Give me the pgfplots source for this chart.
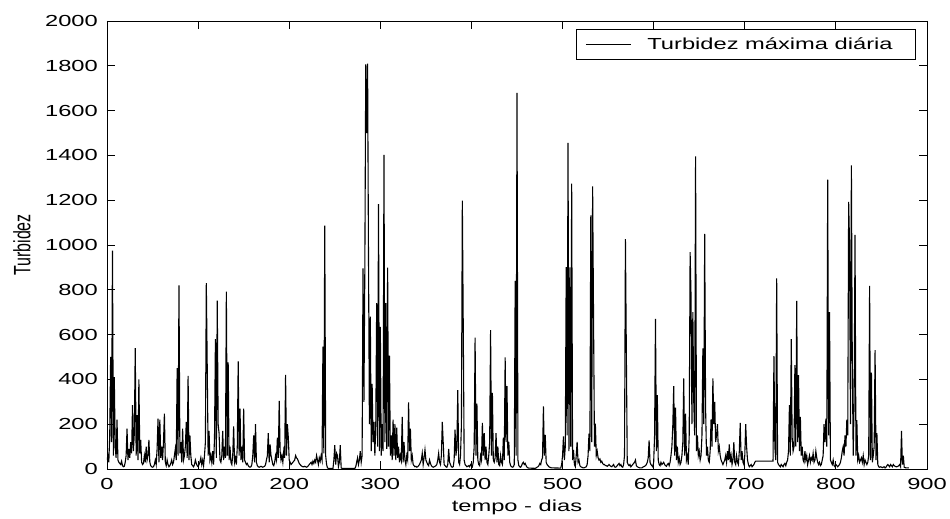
\documentclass[border=0pt]{standalone}
\usepackage{graphicx}
\usepackage{pgfplots}
\pgfplotsset{compat=1.18}
\usepackage{fontspec}
\setmainfont[FakeStretch=1.48]{Liberation Sans}
\newfontfamily\plainsans{Liberation Sans}
\begin{document}
\begin{tikzpicture}
\begin{axis}[
  at={(0,0)}, anchor=south west,
  scale only axis, width=820bp, height=448bp,
  xmin=0, xmax=900, ymin=0, ymax=2000,
  xtick={0,100,...,900}, ytick={0,200,...,2000},
  tick align=inside, xtick pos=both, ytick pos=both,
  major tick length=8bp,
  axis line style={line width=0.9bp},
  every tick/.style={black, line width=0.9bp},
  /pgf/number format/assume math mode=true,
  /pgf/number format/1000 sep={},
  ticklabel style={font=\fontsize{16bp}{18bp}\selectfont},
  yticklabel style={inner sep=0pt, xshift=-9bp},
  xticklabel style={inner sep=0pt, yshift=-9bp},
  xlabel={tempo - dias},
  xlabel style={font=\fontsize{16bp}{18bp}\selectfont, at={(axis description cs:0.5,0)}, anchor=center, yshift=-38bp},
  ylabel={\scalebox{1}[1.48]{\plainsans Turbidez}},
  ylabel style={font=\fontsize{16bp}{18bp}\selectfont, at={(axis description cs:0,0.5)}, anchor=center, yshift=85bp},
  legend style={at={(0.9866,0.982)}, anchor=north east, draw=black, line width=0.8bp, fill=white,
    inner xsep=9bp, inner ysep=6.5bp, font=\fontsize{16bp}{18bp}\selectfont, nodes={inner sep=2bp}},
  legend image code/.code={\draw[#1] (0bp,0bp) -- (45bp,0bp);},
]
\addplot[black, line width=1.1bp, mark=none] coordinates {
(0,40) (1,60) (2,30) (3,150) (4,500) (5,120) (6,975) (7,60) (8,410) (9,100) (10,50) (11,220) (12,40) (13,30) (14,25) (15,20) (16,35) (17,15) (18,10) (19,12)
(20,30) (21,60) (22,180) (23,40) (24,90) (25,50) (26,120) (27,70) (28,285) (29,80) (30,160) (31,540) (32,60) (33,240) (34,40) (35,400) (36,70) (37,130) (38,30) (39,20)
(40,25) (41,60) (42,30) (43,100) (44,40) (45,60) (46,130) (47,30) (48,15) (49,10) (50,8) (51,10) (52,20) (53,40) (54,20) (55,90) (56,225) (57,30) (58,220) (59,50)
(60,100) (61,40) (62,120) (63,247) (64,30) (65,15) (66,40) (67,20) (68,10) (69,15) (70,25) (71,40) (72,20) (73,30) (74,60) (75,90) (76,40) (77,450) (78,60) (79,820)
(80,70) (81,120) (82,30) (83,180) (84,40) (85,60) (86,100) (87,210) (88,50) (89,416) (90,40) (91,150) (92,60) (93,20) (94,15) (95,10) (96,20) (97,40) (98,25) (99,15)
(100,10) (101,20) (102,30) (103,50) (104,20) (105,40) (106,15) (107,60) (108,120) (109,830) (110,460) (111,60) (112,170) (113,40) (114,60) (115,30) (116,80) (117,20) (118,140) (119,580)
(120,50) (121,752) (122,200) (123,160) (124,40) (125,30) (126,60) (127,170) (128,40) (129,100) (130,50) (131,792) (132,60) (133,476) (134,40) (135,100) (136,30) (137,20) (138,60) (139,190)
(140,30) (141,50) (142,20) (143,100) (144,480) (145,60) (146,270) (147,40) (148,100) (149,30) (150,270) (151,40) (152,30) (153,20) (154,25) (155,15) (156,10) (157,8) (158,10) (159,20)
(160,60) (161,150) (162,30) (163,200) (164,30) (165,15) (166,10) (167,8) (168,10) (169,12) (170,10) (171,8) (172,10) (173,12) (174,20) (175,40) (176,60) (177,160) (178,30) (179,110)
(180,60) (181,40) (182,20) (183,15) (184,30) (185,60) (186,40) (187,140) (188,50) (189,304) (190,80) (191,40) (192,60) (193,30) (194,80) (195,50) (196,420) (197,60) (198,200) (199,140)
(200,40) (201,30) (202,20) (203,25) (204,30) (205,35) (206,40) (207,60) (208,50) (209,45) (210,35) (211,25) (212,20) (213,15) (214,12) (215,10) (216,10) (217,12) (218,10) (219,8)
(220,10) (221,15) (222,20) (223,25) (224,30) (225,20) (226,35) (227,25) (228,40) (229,30) (230,60) (231,40) (232,20) (233,50) (234,35) (235,60) (236,40) (237,546) (238,70) (239,1086)
(240,60) (241,20) (242,5) (243,3) (248,2) (249,40) (250,106) (251,20) (252,70) (253,60) (254,10) (255,30) (256,106) (257,5) (258,3) (272,2) (273,10) (274,30) (275,50) (276,20)
(277,40) (278,80) (279,30) (280,60) (281,896) (282,300) (283,900) (284,1806) (285,1500) (286,1810) (287,953) (288,200) (289,680) (290,80) (291,380) (292,120) (293,210) (294,60) (295,200) (296,740)
(297,100) (298,1182) (299,80) (300,635) (301,60) (302,200) (303,80) (304,1402) (305,120) (306,740) (307,90) (308,899) (309,100) (310,506) (311,60) (312,150) (313,40) (314,220) (315,60) (316,200)
(317,40) (318,185) (319,50) (320,100) (321,30) (322,60) (323,40) (324,233) (325,30) (326,120) (327,40) (328,20) (329,60) (330,40) (331,297) (332,80) (333,180) (334,40) (335,60) (336,20)
(337,15) (338,10) (339,12) (340,8) (341,10) (342,15) (343,20) (344,30) (345,40) (346,70) (347,20) (348,50) (349,86) (350,40) (351,30) (352,20) (353,15) (354,40) (355,25) (356,15)
(357,10) (358,8) (359,10) (360,12) (361,15) (362,20) (363,40) (364,70) (365,30) (366,20) (367,60) (368,210) (369,120) (370,20) (371,15) (372,10) (373,8) (374,20) (375,90) (376,30)
(377,20) (378,10) (379,8) (380,10) (381,40) (382,176) (383,60) (384,100) (385,352) (386,30) (387,20) (388,60) (389,200) (390,1198) (391,643) (392,40) (393,20) (394,15) (395,10) (396,12)
(397,15) (398,10) (399,20) (400,15) (401,10) (402,30) (403,100) (404,586) (405,60) (406,292) (407,40) (408,20) (409,15) (410,60) (411,40) (412,206) (413,60) (414,160) (415,40) (416,100)
(417,30) (418,20) (419,60) (420,120) (421,620) (422,60) (423,340) (424,40) (425,30) (426,50) (427,160) (428,30) (429,100) (430,20) (431,15) (432,60) (433,30) (434,20) (435,140) (436,40)
(437,498) (438,120) (439,370) (440,60) (441,121) (442,30) (443,15) (444,10) (445,8) (446,10) (447,20) (448,840) (449,60) (450,1679) (451,40) (452,15) (453,10) (454,8) (455,15) (456,25)
(457,30) (458,20) (459,25) (460,15) (461,8) (462,5) (463,4) (470,3) (471,5) (472,8) (473,10) (474,15) (475,25) (476,20) (477,40) (478,50) (479,280) (480,60) (481,152) (482,30)
(483,20) (484,15) (485,10) (486,8) (487,6) (488,5) (498,4) (499,20) (500,60) (501,146) (502,40) (503,100) (504,901) (505,150) (506,1456) (507,80) (508,900) (509,100) (510,1274) (511,40)
(512,85) (513,20) (514,10) (515,60) (516,121) (517,30) (518,40) (519,15) (520,10) (521,8) (522,6) (523,5) (524,6) (525,8) (526,10) (527,20) (528,60) (529,158) (530,80) (531,1132)
(532,120) (533,1262) (534,680) (535,100) (536,203) (537,60) (538,80) (539,50) (540,40) (541,45) (542,30) (543,35) (544,25) (545,20) (546,20) (547,15) (548,15) (549,12) (550,15) (551,20)
(552,15) (553,12) (554,10) (555,15) (556,20) (557,10) (558,8) (559,10) (560,15) (561,20) (562,25) (563,15) (564,20) (565,10) (566,8) (567,20) (568,60) (569,1026) (570,523) (571,30)
(572,20) (573,15) (574,20) (575,10) (576,15) (577,20) (578,25) (579,30) (580,40) (581,15) (582,10) (583,8) (584,6) (585,5) (587,5) (588,8) (589,10) (590,12) (591,15) (592,20)
(593,30) (594,50) (595,128) (596,30) (597,20) (598,15) (599,10) (600,30) (601,150) (602,670) (603,80) (604,330) (605,40) (606,20) (607,15) (608,30) (609,20) (610,25) (611,30) (612,20)
(613,15) (614,12) (615,20) (616,25) (617,15) (618,30) (619,60) (620,100) (621,195) (622,370) (623,60) (624,274) (625,40) (626,100) (627,30) (628,50) (629,20) (630,30) (631,60) (632,120)
(633,404) (634,60) (635,247) (636,40) (637,60) (638,20) (639,150) (640,968) (641,773) (642,200) (643,700) (644,300) (645,150) (646,1396) (647,80) (648,150) (649,60) (650,80) (651,40) (652,60)
(653,150) (654,538) (655,200) (656,1050) (657,270) (658,60) (659,100) (660,40) (661,30) (662,80) (663,222) (664,100) (665,404) (666,200) (667,300) (668,120) (669,150) (670,200) (671,80) (672,100)
(673,60) (674,40) (675,30) (676,20) (677,30) (678,40) (679,60) (680,30) (681,80) (682,40) (683,110) (684,30) (685,60) (686,20) (687,40) (688,120) (689,30) (690,20) (691,60) (692,30)
(693,20) (694,80) (695,206) (696,40) (697,80) (698,30) (699,20) (700,60) (701,200) (702,100) (703,40) (704,20) (705,10) (706,15) (707,20) (708,10) (709,15) (710,20) (711,30) (712,35)
(731,35) (732,504) (733,100) (734,40) (735,851) (736,30) (737,20) (738,15) (739,10) (740,20) (741,15) (742,10) (743,20) (744,25) (745,15) (746,30) (747,40) (748,80) (749,285) (750,60)
(751,580) (752,140) (753,80) (754,100) (755,464) (756,100) (757,750) (758,120) (759,419) (760,80) (761,233) (762,60) (763,100) (764,40) (765,30) (766,80) (767,40) (768,60) (769,20) (770,40)
(771,60) (772,30) (773,50) (774,40) (775,70) (776,30) (777,40) (778,80) (779,50) (780,30) (781,20) (782,30) (783,15) (784,20) (785,40) (786,60) (787,200) (788,120) (789,225) (790,100)
(791,1292) (792,150) (793,700) (794,40) (795,30) (796,20) (797,40) (798,15) (799,10) (800,20) (801,15) (802,10) (803,15) (804,20) (805,30) (806,50) (807,80) (808,100) (809,60) (810,150)
(811,100) (812,220) (813,150) (814,1192) (815,1000) (816,200) (817,1356) (818,471) (819,60) (820,300) (821,1045) (822,60) (823,218) (824,40) (825,60) (826,30) (827,40) (828,50) (829,30) (830,60)
(831,20) (832,40) (833,30) (834,20) (835,30) (836,60) (837,817) (838,40) (839,430) (840,30) (841,60) (842,100) (843,531) (844,40) (845,160) (846,20) (847,10) (848,8) (849,10) (850,8)
(851,6) (852,8) (853,10) (854,5) (855,8) (856,15) (857,20) (858,15) (859,10) (860,20) (861,15) (862,10) (863,20) (864,15) (865,12) (866,10) (867,10) (868,12) (869,15) (870,20)
(871,10) (872,170) (873,20) (874,60) (875,8) (876,6) (877,5) (880,5)
};
\addlegendentry{\hspace*{14bp}Turbidez máxima diária\hspace*{12bp}}
\end{axis}
\pgfresetboundingbox
\useasboundingbox ([shift={(-107bp,-49bp)}]current axis.south west) rectangle ([shift={(23bp,21bp)}]current axis.north east);
\end{tikzpicture}
\end{document}
